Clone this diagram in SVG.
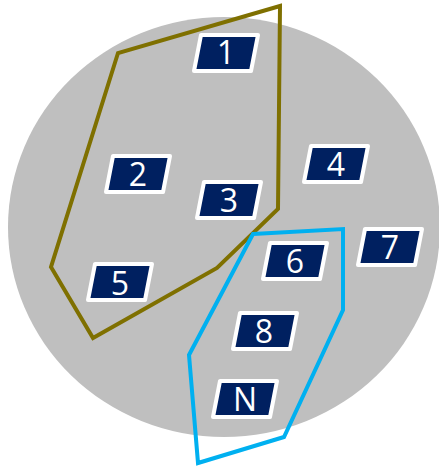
<svg xmlns="http://www.w3.org/2000/svg" xmlns:xlink="http://www.w3.org/1999/xlink" width="439" height="467" viewBox="0 0 439 467">
<style>
.box{fill:#002060;stroke:#ffffff;stroke-width:4;stroke-linejoin:round}
.lbl{fill:#ffffff;font-family:"Open Sans","Liberation Sans",sans-serif;font-size:32px;text-anchor:middle}
.grp{fill:none;stroke-width:4;stroke-linejoin:miter}
</style>
<defs>
<polygon id="box" points="7,0 64,0 57,36 0,36"/>
</defs>
<rect width="439" height="467" fill="#ffffff"/>
<ellipse cx="224" cy="227" rx="216" ry="210" fill="#bfbfbf"/>
<g id="node-1"><use xlink:href="#box" class="box" x="194" y="35"/><text class="lbl" x="226" y="64">1</text></g>
<g id="node-2"><use xlink:href="#box" class="box" x="106" y="156"/><text class="lbl" x="138" y="186">2</text></g>
<g id="node-3"><use xlink:href="#box" class="box" x="197" y="182"/><text class="lbl" x="229" y="212">3</text></g>
<g id="node-4"><use xlink:href="#box" class="box" x="304" y="146"/><text class="lbl" x="336" y="176">4</text></g>
<g id="node-5"><use xlink:href="#box" class="box" x="88" y="264"/><text class="lbl" x="120" y="295">5</text></g>
<g id="node-6"><use xlink:href="#box" class="box" x="263" y="243"/><text class="lbl" x="295" y="273">6</text></g>
<g id="node-7"><use xlink:href="#box" class="box" x="358" y="229"/><text class="lbl" x="390" y="259">7</text></g>
<g id="node-8"><use xlink:href="#box" class="box" x="233" y="313"/><text class="lbl" x="264" y="343">8</text></g>
<g id="node-N"><use xlink:href="#box" class="box" x="213" y="381"/><text class="lbl" x="245" y="411">N</text></g>
<g id="connectors">
<polygon class="grp" stroke="#7f7000" points="280,6 118,53 51,267 93,338 217,268 278,209"/>
<polygon class="grp" stroke="#00b0f0" points="253,234 343,229 343,310 284,437 198,463 189,355"/>
</g>
</svg>
